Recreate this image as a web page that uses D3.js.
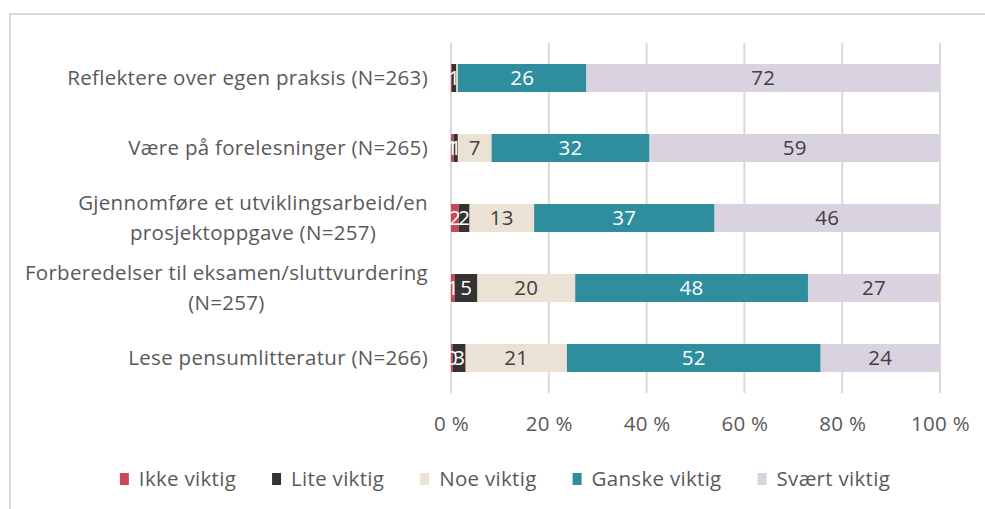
<!DOCTYPE html>
<html>
<head>
<meta charset="utf-8">
<script src="https://cdn.jsdelivr.net/npm/d3@7"></script>
<style>
  body { margin: 0; background: #fff; }
  svg { display: block; }
  text { font-family: "Open Sans", Lato, sans-serif; letter-spacing: 0.3px; }
</style>
</head>
<body>
<script>
// categories (top to bottom), each label may hold two lines
var categories = [
    ["Reflektere over egen praksis (N=263)"],
    ["Være på forelesninger (N=265)"],
    ["Gjennomføre et utviklingsarbeid/en", "prosjektoppgave (N=257)"],
    ["Forberedelser til eksamen/sluttvurdering", "(N=257)"],
    ["Lese pensumlitteratur (N=266)"]
];

var seriesNames = ["Ikke viktig", "Lite viktig", "Noe viktig", "Ganske viktig", "Svært viktig"];

// percent values per category
var ikkeViktig   = [0.2, 0.5, 1.6, 0.8, 0.4];
var liteViktig   = [0.9, 0.9, 2.2, 4.6, 2.6];
var noeViktig    = [0.3, 6.9, 13.2, 20.0, 20.7];
var ganskeViktig = [26.3, 32.3, 36.9, 47.6, 51.9];
var svaertViktig = [72.3, 59.4, 46.1, 27.0, 24.4];

var xTicks = [0, 20, 40, 60, 80, 100];

var colors = ["#c9495a", "#333333", "#ebe2d5", "#2e8e9d", "#d9d3e0"];
var labelColors = ["#fff", "#fff", "#404040", "#fff", "#404040"];

var W = 985, H = 509;
var plotLeft = 451, plotRight = 940, plotTop = 43, plotBottom = 393;
var fs = "20.5px";

var svg = d3.select("body").append("svg")
    .attr("width", W)
    .attr("height", H);

// chart frame (runs off the right and bottom edge)
svg.append("rect")
   .attr("x", 10).attr("y", 14)
   .attr("width", W + 20).attr("height", H + 20)
   .attr("fill", "none")
   .attr("stroke", "#d9d9d9")
   .attr("stroke-width", 2);

var x = d3.scaleLinear().domain([0, 100]).range([plotLeft, plotRight]);
var y = d3.scaleBand()
          .domain(d3.range(categories.length))
          .range([plotTop, plotBottom])
          .paddingInner(0.6)
          .paddingOuter(0.3);

// gridlines
svg.append("g").selectAll("line")
   .data(xTicks)
   .enter().append("line")
   .attr("x1", function(d){ return x(d); })
   .attr("x2", function(d){ return x(d); })
   .attr("y1", plotTop).attr("y2", plotBottom)
   .attr("stroke", "#d9d9d9")
   .attr("stroke-width", 2);

// x axis labels
var xAxis = svg.append("g")
   .attr("transform", "translate(0," + (plotBottom + 20) + ")")
   .call(d3.axisBottom(x).tickValues(xTicks).tickSize(0).tickFormat(function(d){ return d + " %"; }));
xAxis.select(".domain").remove();
xAxis.selectAll("text")
     .attr("fill", "#595959")
     .style("font-size", fs)
     .style("font-family", "'Open Sans', sans-serif");

// stack the series
var rows = categories.map(function(c, i){
    return {
        i: i,
        "Ikke viktig": ikkeViktig[i],
        "Lite viktig": liteViktig[i],
        "Noe viktig": noeViktig[i],
        "Ganske viktig": ganskeViktig[i],
        "Svært viktig": svaertViktig[i]
    };
});
var stacked = d3.stack().keys(seriesNames)(rows);

var groups = svg.append("g").selectAll("g")
    .data(stacked)
    .enter().append("g")
    .attr("fill", function(d, k){ return colors[k]; });

groups.selectAll("rect")
      .data(function(d){ return d; })
      .enter().append("rect")
      .attr("x", function(d){ return x(d[0]); })
      .attr("y", function(d){ return y(d.data.i); })
      .attr("width", function(d){ return x(d[1]) - x(d[0]); })
      .attr("height", y.bandwidth());

// value labels, drawn on top of all bars
var labelLayer = svg.append("g");
stacked.forEach(function(s, k){
    labelLayer.append("g").selectAll("text")
      .data(s.filter(function(d){ return d[1] - d[0] >= 0.35; }))
      .enter().append("text")
      .attr("x", function(d){ return (x(d[0]) + x(d[1])) / 2; })
      .attr("y", function(d){ return y(d.data.i) + y.bandwidth() / 2; })
      .attr("dy", "0.36em")
      .attr("text-anchor", "middle")
      .attr("fill", labelColors[k])
      .style("font-size", fs)
      .text(function(d){ return Math.round(d[1] - d[0]); });
});

// category labels
var catG = svg.append("g").selectAll("text")
    .data(categories)
    .enter().append("text")
    .attr("fill", "#595959")
    .style("font-size", fs);

catG.each(function(lines, i){
    var t = d3.select(this);
    var cy = y(i) + y.bandwidth() / 2;
    var lh = 30;
    // multi-line labels are centred on the widest line
    var widths = lines.map(function(l){
        var tmp = t.append("tspan").text(l);
        var w = tmp.node().getComputedTextLength();
        tmp.remove();
        return w;
    });
    var maxW = d3.max(widths);
    var xr = plotLeft - 23;
    lines.forEach(function(l, j){
        t.append("tspan")
         .attr("x", lines.length > 1 ? xr - maxW / 2 : xr)
         .attr("text-anchor", lines.length > 1 ? "middle" : "end")
         .attr("y", cy + (j - (lines.length - 1) / 2) * lh)
         .attr("dy", "0.36em")
         .text(l);
    });
});

// legend
var legend = svg.append("g");
var items = legend.selectAll("g")
    .data(seriesNames)
    .enter().append("g");
items.append("rect")
     .attr("width", 9).attr("height", 12)
     .attr("y", -6)
     .attr("fill", function(d, k){ return colors[k]; });
items.append("text")
     .attr("x", 19)
     .attr("dy", "0.36em")
     .attr("fill", "#595959")
     .style("font-size", fs)
     .text(function(d){ return d; });

var pos = 0, offsets = [];
items.each(function(d){
    offsets.push(pos);
    pos += 19 + d3.select(this).select("text").node().getComputedTextLength() + 36;
});
var total = pos - 36;
var startX = 505 - total / 2;
items.attr("transform", function(d, k){ return "translate(" + (startX + offsets[k]) + ",479)"; });
</script>
</body>
</html>
